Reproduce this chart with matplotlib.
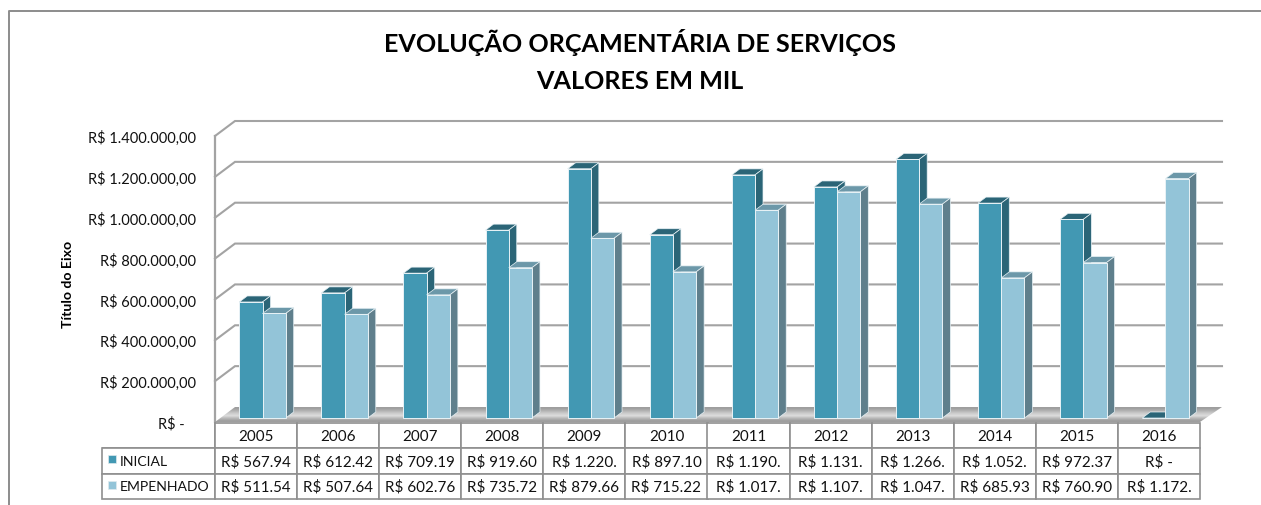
# -*- coding: utf-8 -*-
# evolucao orcamentaria de servicos - colunas 3D falsas com tabela de dados
import numpy as np
import matplotlib
matplotlib.use("Agg")
import matplotlib.pyplot as plt
from matplotlib.lines import Line2D
from matplotlib.patches import Polygon, Rectangle

plt.rcParams["font.family"] = ["Lato", "DejaVu Sans"]

anos = ["2005", "2006", "2007", "2008", "2009", "2010",
        "2011", "2012", "2013", "2014", "2015", "2016"]
inicial = [567940, 612420, 709190, 919600, 1220000, 897100,
           1190000, 1131000, 1266000, 1052000, 972370, 0]
empenhado = [511540, 507640, 602760, 735720, 879660, 715220,
             1017000, 1107000, 1047000, 685930, 760900, 1172000]
inicial_txt = ["R$ 567.94", "R$ 612.42", "R$ 709.19", "R$ 919.60", "R$ 1.220.", "R$ 897.10",
               "R$ 1.190.", "R$ 1.131.", "R$ 1.266.", "R$ 1.052.", "R$ 972.37", "R$ -"]
empenhado_txt = ["R$ 511.54", "R$ 507.64", "R$ 602.76", "R$ 735.72", "R$ 879.66", "R$ 715.22",
                 "R$ 1.017.", "R$ 1.107.", "R$ 1.047.", "R$ 685.93", "R$ 760.90", "R$ 1.172."]
y_ticks = [0, 200000, 400000, 600000, 800000, 1000000, 1200000, 1400000]
y_labels = ["R$ -\u00a0\u00a0\u00a0", "R$ 200.000,00", "R$ 400.000,00", "R$ 600.000,00",
            "R$ 800.000,00", "R$ 1.000.000,00", "R$ 1.200.000,00", "R$ 1.400.000,00"]

W, H = 1261, 506
GRID = "#a3a3a3"
TABLE = "#8f8f8f"
COR_INI = ("#4298b3", "#2b6577", "#2b6577")     # frente, topo, lado
COR_EMP = ("#93c4d8", "#6c98a9", "#5f7f8c")

fig = plt.figure(figsize=(W / 100, H / 100), dpi=100, facecolor="white")
# eixo: x=215..1200 px, zero em y=423, 1.4M em y=137
ax = fig.add_axes([215 / W, 1 - 423 / H, 985 / W, 286 / H])
ax.set_xlim(0, 12)
ax.set_ylim(0, 1400000)
ax.set_facecolor("none")
for s in ax.spines.values():
    s.set_visible(False)

PX = 12 / 985            # 1 px em x
PY = 1400000 / 286       # 1 px em y
WALL_X, WALL_Y = 20 * PX, 15 * PY
END_X = 12 + 22 * PX

# grade de fundo
for v in y_ticks[1:]:
    ax.plot([0, WALL_X, END_X], [v, v + WALL_Y, v + WALL_Y], color=GRID, lw=1.5,
            clip_on=False, zorder=1, solid_joinstyle="miter")
ax.plot([0, 0], [0, 1400000], color=GRID, lw=1.6, clip_on=False, zorder=1)

# piso com degradê metálico
floor = Polygon([(0, 0), (12, 0), (END_X, WALL_Y), (WALL_X, WALL_Y)], closed=True,
                facecolor="none", edgecolor="none", clip_on=False)
ax.add_patch(floor)
grad = np.array([0.62, 0.70, 0.80, 0.86, 0.72, 0.62]).reshape(-1, 1)
img = ax.imshow(grad, cmap="gray", vmin=0, vmax=1, aspect="auto", zorder=2,
                extent=(0, END_X, 0, WALL_Y), interpolation="bilinear")
img.set_clip_path(floor)
img.set_clip_box(fig.bbox)
ax.set_xlim(0, 12)
ax.set_ylim(0, 1400000)

# colunas
BASE = 4 * PY
BAR_W = 23.2 / 82.08
BAR_X = 24.3 / 82.08
DX, DY = 8 * PX, 6 * PY
x = np.arange(len(anos))
for serie, off, cores, z in ((inicial, 0, COR_INI, 3), (empenhado, BAR_W, COR_EMP, 5)):
    left = x + BAR_X + off
    ax.bar(left, serie, width=BAR_W, bottom=BASE, align="edge", color=cores[0],
           edgecolor="#e8f2f6", linewidth=0.7, zorder=z + 1, clip_on=False)
    for l, v in zip(left, serie):
        t = v + BASE
        r = l + BAR_W
        ax.add_patch(Polygon([(l, t), (r, t), (r + DX, t + DY), (l + DX, t + DY)], closed=True,
                             facecolor=cores[1], edgecolor="#e8f2f6", linewidth=0.5,
                             zorder=z, clip_on=False))
        if v > 0:
            ax.add_patch(Polygon([(r, BASE), (r + DX, BASE + DY), (r + DX, t + DY), (r, t)],
                                 closed=True, facecolor=cores[2], edgecolor="#e8f2f6",
                                 linewidth=0.5, zorder=z, clip_on=False))

# eixo y
ax.set_xticks([])
ax.set_yticks(y_ticks)
ax.set_yticklabels(y_labels, fontsize=10.5, color="#111111")
ax.tick_params(axis="y", length=0, pad=14)
fig.text(68 / W, 1 - 284 / H, "Título do Eixo", rotation=90, ha="center", va="center",
         fontsize=10.2, fontweight="bold", color="black")

# tabela de dados
celulas = [[""] + anos, ["INICIAL"] + inicial_txt, ["EMPENHADO"] + empenhado_txt]
larg = [113 / 1098] + [985 / 12 / 1098] * 12
tab = ax.table(cellText=celulas, colWidths=larg, cellLoc="center",
               bbox=[-113 / 985, -77 / 286, 1098 / 985, 76 / 286], zorder=8)
tab.auto_set_font_size(False)
tab.set_fontsize(10.9)
for (r, c), cell in tab.get_celld().items():
    cell.set_edgecolor(TABLE)
    cell.set_linewidth(1.2)
    cell.set_text_props(color="#111111")
    if c == 0:
        cell.set_text_props(ha="left", fontsize=10.1)
        cell.PAD = 0.155
tab.get_celld()[(0, 0)].visible_edges = "BR"

# chaves da legenda na tabela
for i, cor in enumerate((COR_INI[0], COR_EMP[0])):
    ax.add_patch(Rectangle((-107 * PX, (-37.5 - 25.5 * i - 3.5) * PY), 8 * PX, 8 * PY,
                           facecolor=cor, edgecolor="#dfeaee", linewidth=0.5,
                           zorder=10, clip_on=False))

# título
fig.text(640 / W, 1 - 43 / H, "EVOLUÇÃO ORÇAMENTÁRIA DE SERVIÇOS", ha="center", va="center",
         fontsize=18.1, fontweight="bold", color="black")
fig.text(640 / W, 1 - 82 / H, "VALORES EM MIL", ha="center", va="center",
         fontsize=18.1, fontweight="bold", color="black")

# borda da área do gráfico (sem lado direito)
fig.add_artist(Line2D([8.5 / W, 8.5 / W, 1], [0, 1 - 11.5 / H, 1 - 11.5 / H],
                      transform=fig.transFigure, color="#8c8c8c", lw=1.4))

fig.savefig("out.png", dpi=100, facecolor="white")
plt.close(fig)
